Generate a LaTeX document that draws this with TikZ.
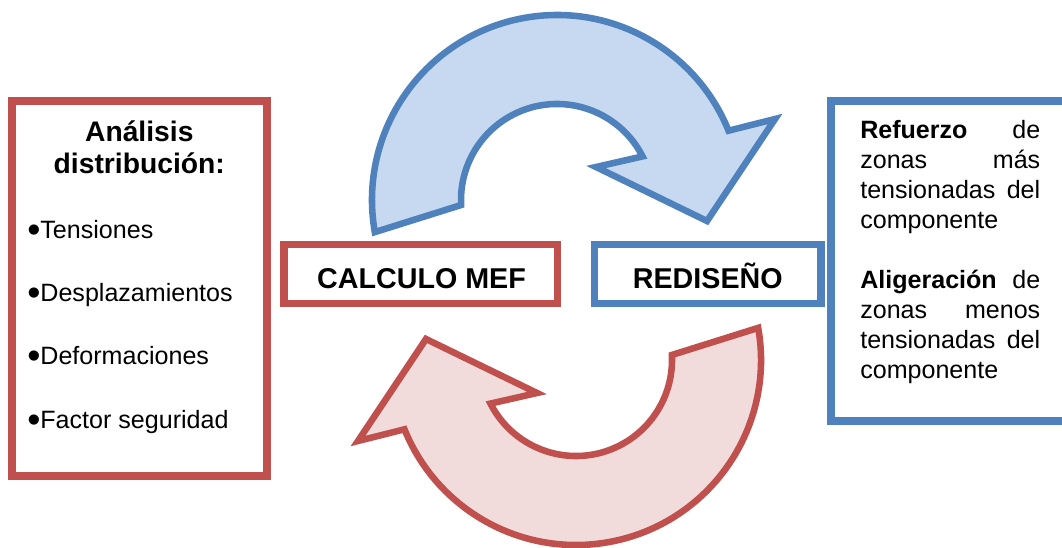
\documentclass[tikz,border=0pt]{standalone}
\usepackage{fontspec}
\setmainfont{Liberation Sans}

\definecolor{redline}{HTML}{C0504D}
\definecolor{redfill}{HTML}{F2DCDB}
\definecolor{blueline}{HTML}{4F81BD}
\definecolor{bluefill}{HTML}{C6D9F1}

\newcommand\wordfill{\hskip 0pt plus 1filll\relax}
\newcommand\listdot{\raisebox{-0.16em}{\scalebox{1.5}{•}}}

\begin{document}
\begin{tikzpicture}[x=0.75pt, y=-0.75pt,
    panel/.style={draw, line width=5.6pt, inner sep=0pt, fill=white},
    turnarrow/.style={line width=4.9pt},
    boxlabel/.style={font=\bfseries\fontsize{21.5}{24}\selectfont, anchor=base, inner sep=0pt},
    heading/.style={font=\bfseries\fontsize{21.2}{24}\selectfont, anchor=base, inner sep=0pt},
    item/.style={font=\fontsize{18.8}{22.5}\selectfont, anchor=base west, inner sep=0pt},
    note/.style={font=\fontsize{18.8}{22.5}\selectfont, anchor=base west, inner sep=0pt,
        text width=135pt, align=left}]

    \useasboundingbox (0,0) rectangle (1062,548);
    \clip (0,0) rectangle (1062,548);

    % Curved arrow, drawn around its own centre
    \def\turnpath{(170:185) arc[start angle=170, end angle=338, radius=185]
        -- (218,-81) -- (150,21) -- (39,-33)
        -- (333:96) arc[start angle=333, end angle=177, radius=96] -- cycle}

    \begin{scope}[shift={(557,200)}]
        \draw[turnarrow, blueline, fill=bluefill] \turnpath;
    \end{scope}
    \begin{scope}[shift={(576,360)}, rotate=180]
        \draw[turnarrow, redline, fill=redfill] \turnpath;
    \end{scope}

    % Boxes
    \node[panel, draw=redline, minimum width=191.25pt, minimum height=281.25pt] (analisis) at (139.5,288.5) {};
    \node[panel, draw=redline, minimum width=205.1pt, minimum height=44.25pt] (calculo) at (420.75,274) {};
    \node[panel, draw=blueline, minimum width=169.9pt, minimum height=44.25pt] (rediseno) at (707.75,274) {};
    \node[panel, draw=blueline, minimum width=186.75pt, minimum height=240pt] (mejoras) at (955.5,261) {};

    % Box titles
    \node[boxlabel] (calculotxt) at (421.5,288.3) {CALCULO MEF};
    \node[boxlabel] (redisenotxt) at (707.75,288.3) {REDISEÑO};

    % Left list
    \node[heading] (titulo1) at (139.3,141.7) {Análisis};
    \node[heading] (titulo2) at (139.3,173.3) {distribución:};
    \foreach \txt [count=\i] in {Tensiones, Desplazamientos, Deformaciones, Factor seguridad}
        \node[item] (item\i) at (27, 175+63.3*\i) {\listdot\txt};

    % Right notes
    \node[note] (refuerzo) at (860,138.3)
        {\textbf{Refuerzo}\wordfill de\\ zonas\wordfill más\\ tensionadas\wordfill del\\ componente};
    \node[note] (aligeracion) at (860,288.5)
        {\textbf{Aligeración}\wordfill de\\ zonas\wordfill menos\\ tensionadas\wordfill del\\ componente};

\end{tikzpicture}
\end{document}
